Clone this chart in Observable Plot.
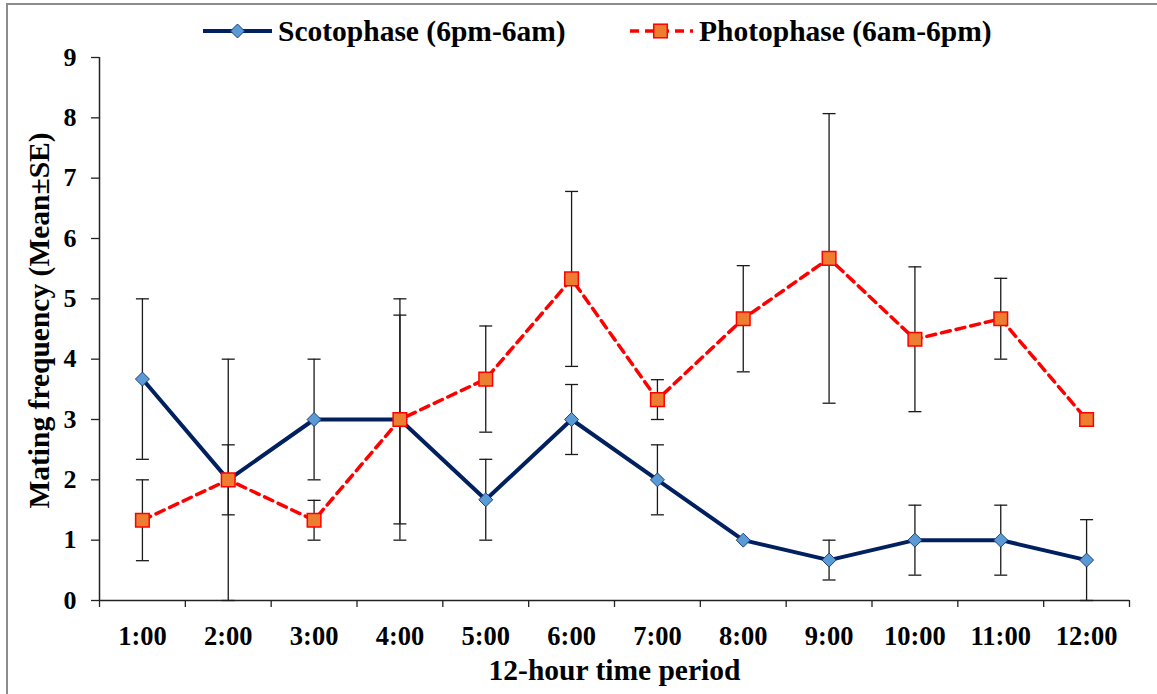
<!DOCTYPE html>
<html>
<head>
<meta charset="utf-8">
<script src="https://cdn.jsdelivr.net/npm/d3@7"></script>
<script src="https://cdn.jsdelivr.net/npm/@observablehq/plot@0.6"></script>
<style>
  body { margin: 0; background: #fff; }
  #wrap { position: relative; width: 1157px; height: 694px; overflow: hidden; background: #fff;
          font-family: "Liberation Serif", "Times New Roman", serif; font-weight: bold; color: #000; }
  #frame { position: absolute; left: 6px; top: 3px; width: 1400px; height: 900px;
           border: 2px solid #8c8c8c; box-sizing: border-box; pointer-events: none; z-index: 3; }
  #legend { position: relative; height: 40px; z-index: 2; }
  .item { position: absolute; top: 13px; height: 36px; display: flex; align-items: center; font-size: 29.5px; white-space: nowrap; }
  .item svg { margin-right: 6px; overflow: visible; }
  #chart svg { display: block; background: transparent; overflow: visible; }
</style>
</head>
<body>
<div id="wrap">
  <div id="frame"></div>
  <div id="legend"></div>
  <div id="chart"></div>
</div>
<script>
// Hour within each 12-hour period
const times = ["1:00", "2:00", "3:00", "4:00", "5:00", "6:00", "7:00", "8:00", "9:00", "10:00", "11:00", "12:00"];

// Scotophase (6pm-6am): mean mating frequency and standard error
const scotoMean = [3.67, 2, 3, 3, 1.67, 3, 2, 1, 0.67, 1, 1, 0.67];
const scotoSE   = [1.33, 2, 1, 1.73, 0.67, 0.58, 0.58, 0, 0.33, 0.58, 0.58, 0.67];

// Photophase (6am-6pm): mean mating frequency and standard error
const photoMean = [1.33, 2, 1.33, 3, 3.67, 5.33, 3.33, 4.67, 5.67, 4.33, 4.67, 3];
const photoSE   = [0.67, 0.58, 0.33, 2, 0.88, 1.45, 0.33, 0.88, 2.4, 1.2, 0.67, 0];

const yTicks = [0, 1, 2, 3, 4, 5, 6, 7, 8, 9];

const seriesNames = ["Scotophase (6pm-6am)", "Photophase (6am-6pm)"];

const navy = "#002060";
const diamondFill = "#5B9BD5";
const red = "#FF0000";
const orange = "#ED7D31";

const rowsOf = (name, mean, se) => times.map((t, k) => ({series: name, i: k + 1, time: t, mean: mean[k], se: se[k]}));
const scoto = rowsOf(seriesNames[0], scotoMean, scotoSE);
const photo = rowsOf(seriesNames[1], photoMean, photoSE);
const all = scoto.concat(photo);
const withErr = all.filter(d => d.se > 0);
const caps = withErr.flatMap(d => [{i: d.i, y: d.mean - d.se}, {i: d.i, y: d.mean + d.se}]);

// Custom marker shapes (pixel sized)
const capSymbol = {draw(ctx) { ctx.moveTo(-6.5, 0); ctx.lineTo(6.5, 0); }};
const diamondSymbol = {draw(ctx) { const r = 7; ctx.moveTo(0, -r); ctx.lineTo(r, 0); ctx.lineTo(0, r); ctx.lineTo(-r, 0); ctx.closePath(); }};
const squareSymbol = {draw(ctx) { const r = 6.8; ctx.rect(-r, -r, 2 * r, 2 * r); }};

// Category boundaries for the x tick marks
const bounds = d3.range(0, times.length + 1).map(k => k + 0.5);

const fontFamily = '"Liberation Serif", "Times New Roman", serif';

const chart = Plot.plot({
  width: 1157,
  height: 654,
  marginTop: 17,
  marginBottom: 94,
  marginLeft: 99,
  marginRight: 28,
  style: {fontFamily, fontWeight: "bold", fontSize: "26px", color: "#000", background: "transparent", overflow: "visible"},
  x: {type: "linear", domain: [0.5, times.length + 0.5]},
  y: {domain: [0, 9]},
  marks: [
    Plot.axisY({ticks: yTicks, tickSize: 8, tickPadding: 15, fontSize: 26, fontWeight: "bold", label: null, stroke: "#222", strokeWidth: 1.3}),
    Plot.axisX({ticks: bounds, tickSize: 7, tickFormat: () => "", label: null, stroke: "#222", strokeWidth: 1.3}),
    Plot.axisX({ticks: times.map((t, k) => k + 1), tickSize: 0, tickPadding: 26, tickFormat: v => times[v - 1], fontSize: 26.5, fontWeight: "bold", label: null}),
    Plot.ruleY([0], {stroke: "#222", strokeWidth: 1.5}),
    Plot.ruleX([0.5], {stroke: "#222", strokeWidth: 1.5}),
    // Error bars (mean ± SE)
    Plot.ruleX(withErr, {x: "i", y1: d => d.mean - d.se, y2: d => d.mean + d.se, stroke: "#1a1a1a", strokeWidth: 1.3}),
    Plot.dot(caps, {x: "i", y: "y", symbol: capSymbol, fill: "none", stroke: "#1a1a1a", strokeWidth: 1.3}),
    // Series lines
    Plot.line(scoto, {x: "i", y: "mean", stroke: navy, strokeWidth: 4, strokeLinejoin: "round"}),
    Plot.line(photo, {x: "i", y: "mean", stroke: red, strokeWidth: 3.5, strokeDasharray: "9,6"}),
    // Markers
    Plot.dot(scoto, {x: "i", y: "mean", symbol: diamondSymbol, fill: diamondFill, stroke: "#1F3F7A", strokeWidth: 1}),
    Plot.dot(photo, {x: "i", y: "mean", symbol: squareSymbol, fill: orange, stroke: red, strokeWidth: 1.5}),
    // Axis titles
    Plot.text(["Mating frequency (Mean±SE)"], {text: d => d, frameAnchor: "left", textAnchor: "middle", lineAnchor: "middle", dx: -60, dy: -8.5, rotate: -90, fontSize: 29.5, fontWeight: "bold", fill: "#000"}),
    Plot.text(["12-hour time period"], {text: d => d, frameAnchor: "bottom", textAnchor: "middle", lineAnchor: "middle", dy: 70, fontSize: 29.5, fontWeight: "bold", fill: "#000"})
  ]
});
document.getElementById("chart").appendChild(chart);

// Legend
const legend = document.getElementById("legend");
function addItem(left, name, swatch) {
  const item = document.createElement("div");
  item.className = "item";
  item.style.left = left + "px";
  item.innerHTML = swatch + "<span>" + name + "</span>";
  legend.appendChild(item);
}
addItem(203, seriesNames[0],
  `<svg width="69" height="20"><line x1="0" y1="10" x2="69" y2="10" stroke="${navy}" stroke-width="4"/>` +
  `<path d="M34.5,3 L41.5,10 L34.5,17 L27.5,10 Z" fill="${diamondFill}" stroke="#1F3F7A" stroke-width="1"/></svg>`);
addItem(628, seriesNames[1],
  `<svg width="65" height="20"><line x1="2" y1="10" x2="65" y2="10" stroke="${red}" stroke-width="3.5" stroke-dasharray="9,6"/>` +
  `<rect x="25.7" y="3.2" width="13.6" height="13.6" fill="${orange}" stroke="${red}" stroke-width="1.5"/></svg>`);
</script>
</body>
</html>
